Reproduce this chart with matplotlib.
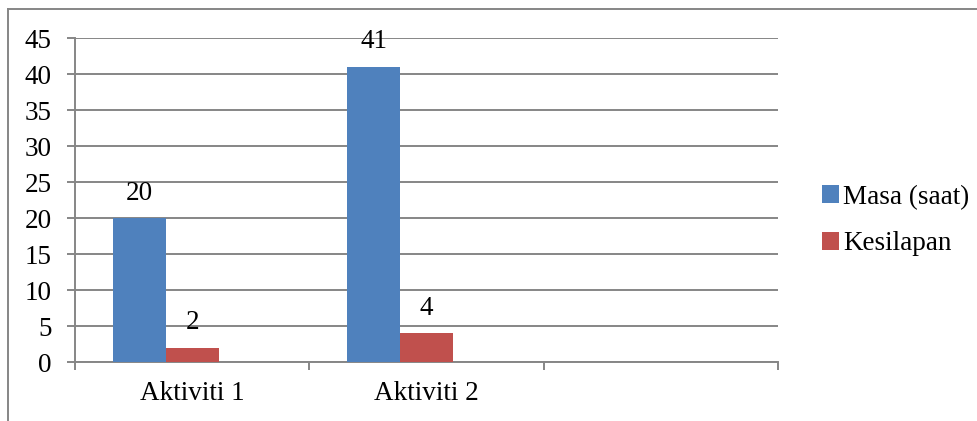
import matplotlib
matplotlib.use('agg')
from matplotlib import pyplot as plt
from matplotlib.lines import Line2D
import numpy as np

plt.rcParams['font.family'] = ['Liberation Serif', 'DejaVu Serif']

# data
categories = ['Aktiviti 1', 'Aktiviti 2', '']
masa = [20, 41]
kesilapan = [2, 4]
series_names = ['Masa (saat)', 'Kesilapan']

blue = '#4F81BD'
red = '#C0504D'
grey = '#868686'
fs = 19.5

fig = plt.figure(figsize=(9.78, 4.21), dpi=100)
ax = fig.add_axes([0.0767, 0.1401, 0.7188, 0.7696])

# excel-like layout: 3 slots per category, third series empty
bw = 0.225
x = np.arange(len(masa)) + 0.5
b1 = ax.bar(x - 1.5 * bw, masa, bw, align='edge', color=blue, zorder=3, label=series_names[0])
b2 = ax.bar(x - 0.5 * bw, kesilapan, bw, align='edge', color=red, zorder=3, label=series_names[1])
b1_x = x - bw
b2_x = x

for xs, vals in ((b1_x, masa), (b2_x, kesilapan)):
    for xi, v in zip(xs, vals):
        ax.annotate(str(v), (xi, v), xytext=(0, 18), textcoords='offset points',
                    ha='center', va='center', fontsize=fs, zorder=4)

ax.set_xlim(0, 3)
ax.set_ylim(0, 45)
ax.set_yticks(np.arange(0, 46, 5))
ax.yaxis.grid(True, color=grey, lw=1.4, zorder=0)
ax.set_xticks([0, 1, 2, 3])
ax.set_xticklabels([])
ax.set_xticks(np.arange(len(categories)) + 0.5, minor=True)
ax.set_xticklabels(categories, minor=True)
ax.tick_params(axis='x', which='major', direction='out', length=5.5, width=1.4, color=grey)
ax.tick_params(axis='x', which='minor', length=0, pad=14, labelsize=fs)
ax.tick_params(axis='y', direction='out', length=5.8, width=1.4, color=grey, pad=11, labelsize=fs)

for s in ('top', 'right'):
    ax.spines[s].set_visible(False)
for s in ('left', 'bottom'):
    ax.spines[s].set_color(grey)
    ax.spines[s].set_linewidth(1.4)

leg = fig.legend(handles=[b1, b2], loc='upper left', bbox_to_anchor=(0.840, 0.561),
                 frameon=False, fontsize=fs, handlelength=0.65, handleheight=0.65,
                 handletextpad=0.15, labelspacing=0.79, borderpad=0, borderaxespad=0)

# outer chart border (left and top are visible)
fig.add_artist(Line2D([0.0082, 0.0082], [0, 0.979], color=grey, lw=1.4, transform=fig.transFigure))
fig.add_artist(Line2D([0.0082, 1], [0.979, 0.979], color=grey, lw=1.4, transform=fig.transFigure))

fig.savefig('out.png', dpi=100)
